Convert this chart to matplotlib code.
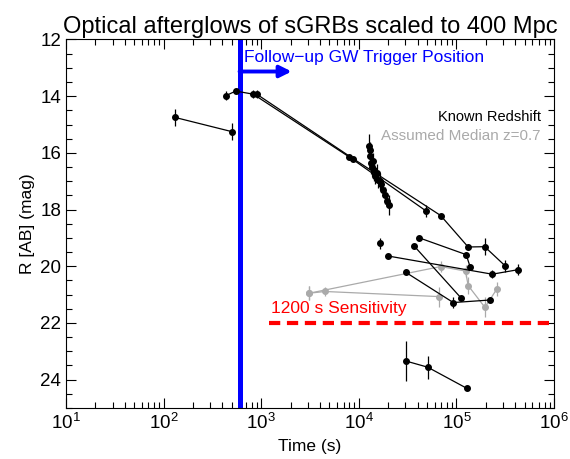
import numpy as np
import matplotlib.pyplot as plt
from matplotlib.ticker import MultipleLocator, LogLocator, NullFormatter

plt.rcParams['font.family'] = ['Liberation Sans', 'DejaVu Sans']
plt.rcParams['mathtext.fontset'] = 'custom'
plt.rcParams['mathtext.rm'] = 'Liberation Sans'

# Known-redshift light curves (time in s, R AB mag, error)
known = [
    ([131, 499], [14.75, 15.25], [0.3, 0.3]),
    ([436, 548, 830, 7950, 48900], [13.98, 13.82, 13.93, 16.14, 18.05], [0.15, 0.05, 0.15, 0.05, 0.2]),
    ([900, 8800, 69000, 132000, 195000, 317000], [13.93, 16.21, 18.21, 19.32, 19.31, 19.99],
     [0.15, 0.05, 0.05, 0.1, 0.3, 0.2]),
    ([12700, 12900, 13100, 13300, 13600, 14000, 14400, 14800, 15300, 15800, 16300, 17000, 17700, 18500, 19300, 20300],
     [15.75, 15.9, 16.1, 16.35, 16.5, 16.3, 16.6, 16.8, 16.7, 16.95, 17.0, 17.1, 17.3, 17.5, 17.7, 17.85],
     [0.4, 0.3, 0.3, 0.4, 0.3, 0.3, 0.4, 0.3, 0.3, 0.3, 0.3, 0.2, 0.2, 0.3, 0.2, 0.35]),
    ([16400], [19.19], [0.2]),
    ([41000, 126000, 138000], [18.99, 19.59, 20.01], [0.05, 0.1, 0.1]),
    ([20100, 233000, 430000], [19.64, 20.28, 20.12], [0.05, 0.15, 0.2]),
    ([36800, 111000], [19.28, 21.11], [0.05, 0.05]),
    ([30500, 92900, 222000], [20.22, 21.28, 21.19], [0.05, 0.2, 0.05]),
    ([30200, 50800, 127000], [23.34, 23.56, 24.30], [0.7, 0.4, 0.05]),
]

# Assumed median redshift light curves
assumed = [
    ([3110, 69000, 124000, 132000, 196000, 259000], [20.95, 20.01, 20.17, 20.68, 21.45, 20.81],
     [0.25, 0.2, 0.2, 0.3, 0.35, 0.25]),
    ([3110, 4510, 66400], [20.95, 20.89, 21.07], [0.25, 0.15, 0.35]),
]

t_trigger = 600
t_sens = 1200
sens_mag = 22.0
arrow_end = 2050
arrow_mag = 13.13

gray = '#aaaaaa'

fig = plt.figure(figsize=(5.7, 4.59), dpi=100)
ax = fig.add_axes([0.1158, 0.1111, 0.8561, 0.8029])

for t, m, e in assumed:
    ax.errorbar(t, m, yerr=e, color=gray, marker='o', ms=4, lw=0.9, elinewidth=0.9, capsize=0)

for t, m, e in known:
    ax.errorbar(t, m, yerr=e, color='black', marker='o', ms=4, lw=0.9, elinewidth=0.9, capsize=0)

# Trigger line and arrow
ax.axvline(t_trigger, color='blue', lw=3.6)
ax.annotate('', xy=(arrow_end, arrow_mag), xytext=(t_trigger, arrow_mag),
            arrowprops=dict(arrowstyle='-|>,head_length=0.7,head_width=0.35', lw=2.8,
                            color='blue', shrinkA=0, shrinkB=0))
ax.text(660, 12.62, 'Follow\u2212up GW Trigger Position', color='blue', fontsize=12.5, va='center')

# Sensitivity limit
ax.plot([t_sens, 1e6], [sens_mag, sens_mag], color='red', lw=3, dashes=(2.7, 1.6))
ax.text(1270, 21.5, '1200 s Sensitivity', color='red', fontsize=12.5, va='center')

ax.text(0.973, 0.79, 'Known Redshift', color='black', fontsize=10.5, ha='right', va='center',
        transform=ax.transAxes)
ax.text(0.973, 0.738, 'Assumed Median z=0.7', color=gray, fontsize=11, ha='right', va='center',
        transform=ax.transAxes)

ax.set_xscale('log')
ax.set_xlim(10, 1e6)
ax.set_ylim(25, 12)
ax.yaxis.set_major_locator(MultipleLocator(2))
ax.yaxis.set_minor_locator(MultipleLocator(0.5))
ax.xaxis.set_major_locator(LogLocator(base=10, numticks=10))
ax.xaxis.set_minor_locator(LogLocator(base=10, subs=np.arange(2, 10), numticks=10))
ax.xaxis.set_minor_formatter(NullFormatter())
ax.tick_params(which='both', direction='in', top=True, right=True, labelsize=13.5)
ax.tick_params(which='major', length=7, width=0.8)
ax.tick_params(which='minor', length=4, width=0.8)

ax.set_xlabel('Time (s)', fontsize=12.5)
ax.set_ylabel('R [AB] (mag)', fontsize=12.5)
ax.set_title('Optical afterglows of sGRBs scaled to 400 Mpc', fontsize=17, pad=5)

plt.savefig('out.png', dpi=100)
